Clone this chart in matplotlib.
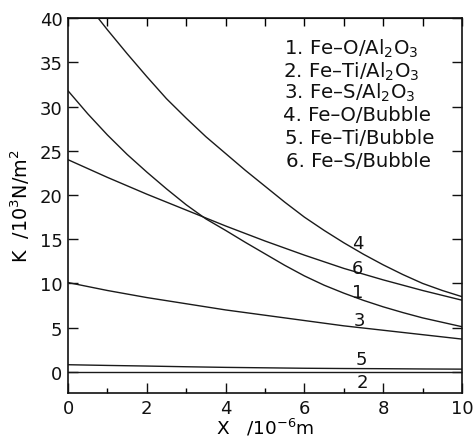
import matplotlib
matplotlib.use("Agg")
import matplotlib.pyplot as plt

plt.rcParams['font.family'] = ['DejaVu Sans']
plt.rcParams['mathtext.fontset'] = 'dejavusans'

# Data
x_half = [0, 0.5, 1, 1.5, 2, 2.5, 3, 3.5, 4, 4.5, 5, 5.5, 6, 6.5, 7, 7.5, 8, 8.5, 9, 9.5, 10]
x4 = [0.77, 1, 1.5, 2, 2.5, 3, 3.5, 4, 4.5, 5, 5.5, 6, 6.5, 7, 7.5, 8, 8.5, 9, 9.5, 10]
k4 = [40.0, 38.7, 36.0, 33.4, 30.9, 28.7, 26.6, 24.7, 22.8, 21.0, 19.2,
      17.5, 16.0, 14.6, 13.3, 12.1, 11.0, 10.0, 9.2, 8.5]                   # Fe-O/Bubble
k1 = [31.8, 29.2, 26.8, 24.6, 22.6, 20.7, 18.9, 17.3, 16.0, 14.65, 13.35,
      12.05, 10.85, 9.8, 8.9, 8.08, 7.35, 6.7, 6.1, 5.6, 5.1]               # Fe-O/Al2O3
x_int = [0, 1, 2, 3, 4, 5, 6, 7, 8, 9, 10]
k6 = [24.0, 22.0, 20.1, 18.3, 16.5, 14.8, 13.2, 11.7, 10.4, 9.2, 8.1]      # Fe-S/Bubble
k3 = [10.1, 9.2, 8.4, 7.7, 7.0, 6.4, 5.8, 5.2, 4.7, 4.2, 3.7]             # Fe-S/Al2O3
k5 = [0.8, 0.72, 0.65, 0.57, 0.5, 0.45, 0.4, 0.37, 0.35, 0.32, 0.3]        # Fe-Ti/Bubble
k2 = [0.0] * 11                                                            # Fe-Ti/Al2O3

legend_lines = ["1. Fe\u2013O/Al$_2$O$_3$", "2. Fe\u2013Ti/Al$_2$O$_3$",
                "3. Fe\u2013S/Al$_2$O$_3$", "4. Fe\u2013O/Bubble",
                "5. Fe\u2013Ti/Bubble", "6. Fe\u2013S/Bubble"]
curve_labels = ["4", "6", "1", "3", "5", "2"]
label_x = [7.36, 7.35, 7.36, 7.39, 7.45, 7.47]
label_y = [14.6, 11.8, 9.0, 5.9, 1.4, -1.2]

x_ticks = [0, 2, 4, 6, 8, 10]
y_ticks = [0, 5, 10, 15, 20, 25, 30, 35, 40]

fig = plt.figure(figsize=(4.75, 4.39), dpi=100)
ax = fig.add_axes([68/475, 1-394/439, (462-68)/475, (394-19.3)/439])

lc = '#1a1a1a'
lw = 1.0
ax.plot(x4, k4, color=lc, lw=lw)
ax.plot(x_half, k1, color=lc, lw=lw)
ax.plot(x_int, k6, color=lc, lw=lw)
ax.plot(x_int, k3, color=lc, lw=lw)
ax.plot(x_int, k5, color=lc, lw=lw)
ax.plot(x_int, k2, color=lc, lw=lw)

ax.set_xlim(0, 10)
ax.set_ylim(-2.4, 40)
ax.set_xticks(x_ticks)
ax.set_xticks([1, 3, 5, 7, 9], minor=True)
ax.set_yticks(y_ticks)
ax.tick_params(axis='both', which='major', direction='in', length=7, width=1.0,
               labelsize=13.0, pad=4, colors='#111111')
ax.tick_params(axis='x', which='minor', direction='in', length=3.5, width=1.0)
ax.tick_params(axis='y', right=True, direction='in')
for s in ax.spines.values():
    s.set_linewidth(1.2)
    s.set_color('#111111')

sec = ax.secondary_xaxis('top')
sec.set_xticks(x_int)
sec.tick_params(direction='in', length=6, width=1.0, labeltop=False)

ax.set_xlabel("X   /10$^{-6}$m", fontsize=13.3, labelpad=0)
ax.set_ylabel("K  /10$^3$N/m$^2$", fontsize=13.8, labelpad=5)

leg_x = [5.48, 5.45, 5.48, 5.45, 5.50, 5.53]
leg_y = [35.96, 33.41, 31.03, 28.54, 25.93, 23.33]
for tx, ty, t in zip(leg_x, leg_y, legend_lines):
    ax.text(tx, ty, t, fontsize=14.2, ha='left', va='baseline', color='#111111')

for tx, ty, t in zip(label_x, label_y, curve_labels):
    ax.text(tx, ty, t, fontsize=13.0, ha='center', va='center', color='#111111')

fig.savefig("out.png", dpi=100)
